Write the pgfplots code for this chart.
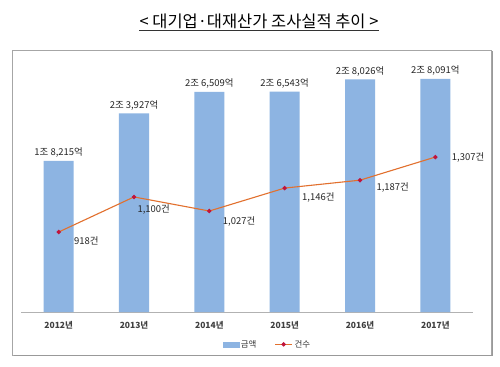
\documentclass[border=0pt]{standalone}
\usepackage{pgfplots}
\pgfplotsset{compat=1.18}
\usepackage{fontspec}
\setmainfont{Noto Sans CJK KR}
\definecolor{barblue}{HTML}{8DB4E2}
\definecolor{lineorange}{HTML}{E2702E}
\definecolor{markred}{HTML}{C0143C}
\begin{document}
\begin{tikzpicture}
\fill[white] (0bp,0bp) rectangle (500bp,367bp);
\draw[gray!70, line width=0.8bp] (12bp,12bp) rectangle (491bp,317bp);
\draw[black!40, line width=1bp] (14bp,11bp) -- (492bp,11bp) -- (492bp,316bp);
\node[font=\fontsize{16.5}{18}\selectfont, inner sep=0pt] (t) at (259bp,346bp) {< 대기업·대재산가 조사실적 추이 >};
\draw[black!80, line width=0.6bp] ([yshift=-2bp]t.south west) -- ([yshift=-2bp]t.south east);
\begin{axis}[
  at={(21bp,55bp)}, anchor=south west,
  scale only axis, width=452bp, height=249bp,
  xmin=-0.5, xmax=5.5, ymin=0, ymax=30000,
  axis y line=none, axis x line*=bottom,
  x axis line style={gray!60, line width=0.6bp},
  xtick={0,1,2,3,4,5},
  xticklabels={2012년,2013년,2014년,2015년,2016년,2017년},
  major tick length=0pt,
  xticklabel style={font=\fontsize{8.5}{10}\selectfont\bfseries, text=black!75, yshift=-6bp},
  clip=false,
]
\addplot[ybar, bar width=30bp, fill=barblue, draw=none,
  point meta=explicit symbolic, nodes near coords,
  every node near coord/.append style={font=\fontsize{9.5}{11}\selectfont, text=black!85, yshift=0bp}]
  coordinates {(0,18215) [1조 8,215억] (1,23927) [2조 3,927억] (2,26509) [2조 6,509억]
               (3,26543) [2조 6,543억] (4,28026) [2조 8,026억] (5,28091) [2조 8,091억]};
\end{axis}
\begin{axis}[
  at={(21bp,55bp)}, anchor=south west,
  scale only axis, width=452bp, height=249bp,
  xmin=-0.5, xmax=5.5, ymin=503, ymax=1795,
  axis lines=none, clip=false,
  legend columns=2,
  legend style={at={(0.545,-0.13)}, anchor=center, draw=none, fill=none,
    font=\fontsize{8.5}{10}\selectfont, text=black!80,
    /tikz/every even column/.append style={column sep=16bp}},
  legend cell align=left,
]
\addlegendimage{legend image code/.code={\fill[barblue] (0bp,-2.5bp) rectangle (16bp,2.5bp);}}
\addlegendentry{금액}
\addplot[lineorange, line width=1.1bp, mark=*, mark size=1.6bp,
  mark options={fill=markred, draw=markred},
  point meta=explicit symbolic, nodes near coords,
  visualization depends on={\thisrow{dx}\as\dx},
  visualization depends on={\thisrow{dy}\as\dy},
  every node near coord/.append style={anchor=west, font=\fontsize{9.5}{11}\selectfont,
    text=black!85, xshift=\dx bp, yshift=\dy bp, inner sep=0pt}]
  table[x=x, y=y, meta=lbl] {
x y dx dy lbl
0 918 15 -9 918건
1 1100 3 -13 1,100건
2 1027 13 -10 1,027건
3 1146 17 -9 1,146건
4 1187 16 -7 1,187건
5 1307 16 0 1,307건
};
\addlegendentry{건수}
\end{axis}
\pgfresetboundingbox
\useasboundingbox (0bp,0bp) rectangle (500bp,367bp);
\end{tikzpicture}
\end{document}
